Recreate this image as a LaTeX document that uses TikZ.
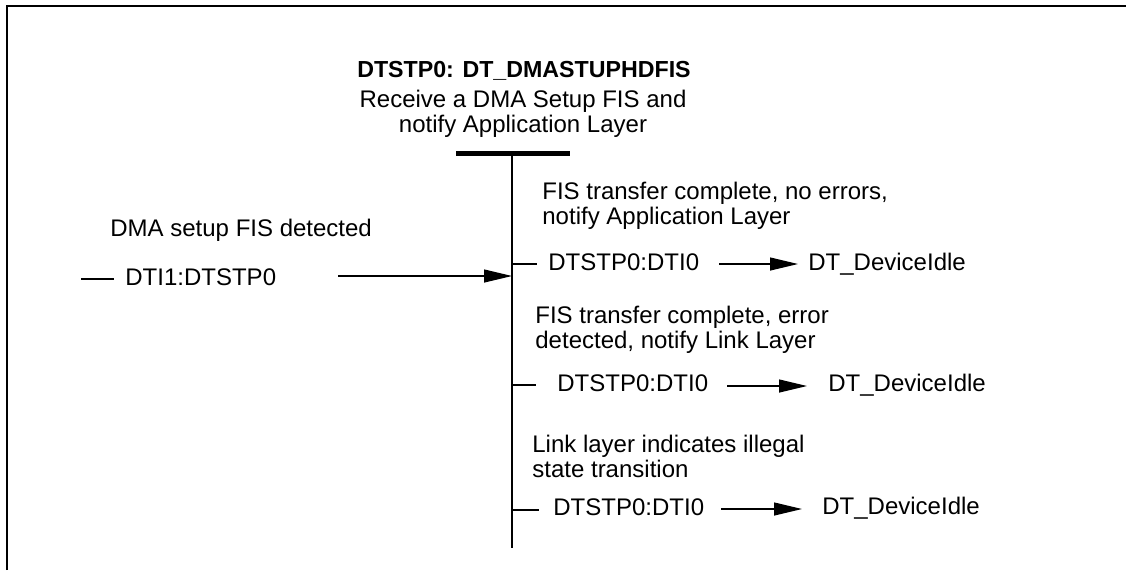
\documentclass[tikz,border=0pt]{standalone}
\usepackage{fontspec}
\setmainfont{Liberation Sans}
\usetikzlibrary{arrows.meta,positioning}

\begin{document}
\begin{tikzpicture}[x=0.5pt, y=-0.5pt,
        every node/.style={inner sep=0pt, font=\fontsize{12}{12.4}\selectfont},
        flow/.style={-{Triangle[length=14pt,width=6.5pt]}, line width=0.6pt},
        stub/.style={line width=0.6pt}]
        \useasboundingbox (0,0) rectangle (1126,570);

        % Frame
        \draw[line width=1pt] (6.5,570) -- (6.5,6) -- (1126,6);

        % State
        \node[font=\bfseries\fontsize{11.6}{12.4}\selectfont, anchor=base] (title) at (524,77) {DTSTP0: DT\_DMASTUPHDFIS};
        \node[align=center, anchor=base, font=\fontsize{12}{12.5}\selectfont] (desc) at (523,132) {Receive a DMA Setup FIS and\\notify Application Layer};
        \coordinate (barl) at (456,153);
        \coordinate (barr) at (570,153);
        \coordinate (top) at (512,153);
        \coordinate (bot) at (512,548);
        \draw[line width=2.5pt] (barl) -- (barr);
        \draw[line width=1pt] (top) -- (bot);

        % Entry
        \node[anchor=base west] (c0) at (110,236) {DMA setup FIS detected};
        \node[anchor=base west] (in) at (125,285) {DTI1:DTSTP0};
        \coordinate (d0) at (81,279);
        \coordinate (a0) at (338,276);
        \draw[stub] (d0) -- ++(33,0);
        \draw[flow] (a0) -- (a0 -| top);

        % Exit 1
        \node[anchor=base west, align=left] (c1) at (542,224) {FIS transfer complete, no errors,\\notify Application Layer};
        \coordinate (s1) at (512,264);
        \node[anchor=base west] (x1) at (548,270) {DTSTP0:DTI0};
        \coordinate (a1) at (719,264);
        \coordinate (b1) at (798,264);
        \node[anchor=base west] (t1) at (808,270) {DT\_DeviceIdle};
        \draw[stub] (s1) -- ++(25,0);
        \draw[flow] (a1) -- (b1);

        % Exit 2
        \node[anchor=base west, align=left] (c2) at (535,348) {FIS transfer complete, error\\detected, notify Link Layer};
        \coordinate (s2) at (512,385);
        \node[anchor=base west] (x2) at (557,391) {DTSTP0:DTI0};
        \coordinate (a2) at (727,386);
        \coordinate (b2) at (807,386);
        \node[anchor=base west] (t2) at (828,391) {DT\_DeviceIdle};
        \draw[stub] (s2) -- ++(24,0);
        \draw[flow] (a2) -- (b2);

        % Exit 3
        \node[anchor=base west, align=left] (c3) at (532,477) {Link layer indicates illegal\\state transition};
        \coordinate (s3) at (512,510);
        \node[anchor=base west] (x3) at (553,515) {DTSTP0:DTI0};
        \coordinate (a3) at (721,509);
        \coordinate (b3) at (802,509);
        \node[anchor=base west] (t3) at (822,514) {DT\_DeviceIdle};
        \draw[stub] (s3) -- ++(27,0);
        \draw[flow] (a3) -- (b3);
    \end{tikzpicture}
\end{document}
